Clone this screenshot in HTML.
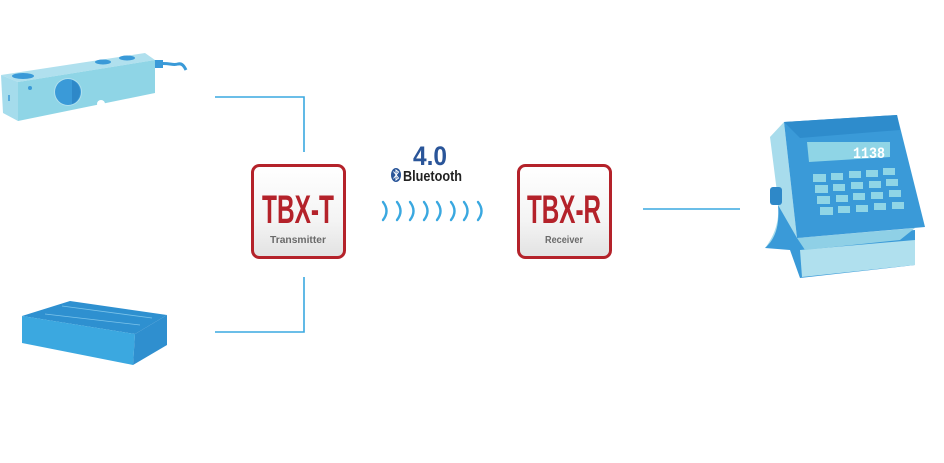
<!DOCTYPE html>
<html><head><meta charset="utf-8"><style>
html,body{margin:0;padding:0;background:#fff;width:944px;height:463px;overflow:hidden}
svg{display:block}
text{font-family:"Liberation Sans Narrow","Liberation Sans",sans-serif;font-weight:bold}
</style></head><body>
<svg width="944" height="463" viewBox="0 0 944 463" xmlns="http://www.w3.org/2000/svg">
<defs>
<linearGradient id="bg" x1="0" y1="0" x2="0" y2="1">
<stop offset="0" stop-color="#ffffff"/><stop offset="0.6" stop-color="#f4f4f4"/><stop offset="1" stop-color="#e2e2e2"/>
</linearGradient>
</defs>
<g stroke="#3aa8e0" stroke-width="1.6" fill="none">
<polyline points="215,97 304,97 304,152"/>
<polyline points="215,332 304,332 304,277"/>
<line x1="643" y1="209" x2="740" y2="209"/>
</g>
<!-- load cell -->
<path d="M155,64 C170,62 172,66 178,64 C182,63 184,66 186,70" stroke="#3a9ad8" stroke-width="3" fill="none"/>
<rect x="154" y="60" width="9" height="8" fill="#3a9ad8"/>
<polygon points="1,75 145,53 155,60 18,82" fill="#b0e0ee"/>
<polygon points="1,75 18,82 18,121 3,113" fill="#a5dcec"/>
<polygon points="18,82 155,60 155,93 18,121" fill="#8fd5e6"/>
<ellipse cx="23" cy="76" rx="11" ry="3" fill="#3a9ad8"/>
<ellipse cx="103" cy="62" rx="8" ry="2.5" fill="#3a9ad8"/>
<ellipse cx="127" cy="58" rx="8" ry="2.5" fill="#3a9ad8"/>
<circle cx="30" cy="88" r="2" fill="#3a9ad8"/>
<circle cx="68" cy="92" r="14" fill="#b0e0ee"/>
<circle cx="68" cy="92" r="13" fill="#3a9ad8"/>
<path d="M72,80 A13,13 0 0 1 72,104" fill="#2e88c8"/>
<circle cx="101" cy="104" r="4" fill="#fff"/>
<line x1="9" y1="95" x2="9" y2="101" stroke="#3a9ad8" stroke-width="1.5"/>
<!-- platform -->
<polygon points="22,316 70,301 167,315 135,334" fill="#2e90d0"/>
<line x1="45" y1="314" x2="140" y2="325" stroke="#7cc4ea" stroke-width="0.8"/>
<line x1="62" y1="306" x2="152" y2="318" stroke="#7cc4ea" stroke-width="0.8"/>
<polygon points="22,316 135,334 133,365 22,343" fill="#3ba8e0"/>
<polygon points="135,334 167,315 167,345 133,365" fill="#2f8fcf"/>
<!-- TBX-T -->
<rect x="252.5" y="165.5" width="92" height="92" rx="7" fill="url(#bg)" stroke="#b4222a" stroke-width="3"/>
<text x="298" y="223" text-anchor="middle" font-size="40" fill="#b4222a" textLength="72" lengthAdjust="spacingAndGlyphs">TBX-T</text>
<text x="298" y="243" text-anchor="middle" font-size="10" fill="#6a6a6a" textLength="56" lengthAdjust="spacingAndGlyphs">Transmitter</text>
<!-- TBX-R -->
<rect x="518.5" y="165.5" width="92" height="92" rx="7" fill="url(#bg)" stroke="#b4222a" stroke-width="3"/>
<text x="564" y="223" text-anchor="middle" font-size="40" fill="#b4222a" textLength="74" lengthAdjust="spacingAndGlyphs">TBX-R</text>
<text x="564" y="243" text-anchor="middle" font-size="10" fill="#6a6a6a" textLength="38" lengthAdjust="spacingAndGlyphs">Receiver</text>
<!-- bluetooth -->
<text x="430" y="165" text-anchor="middle" font-size="27" fill="#2a5599" textLength="34" lengthAdjust="spacingAndGlyphs">4.0</text>
<ellipse cx="396" cy="175" rx="5" ry="7" fill="#2a5599"/>
<path d="M393.5,171.5 L398.5,178 L396,180 L396,170 L398.5,172 L393.5,178.5" stroke="#fff" stroke-width="1" fill="none"/>
<text x="403" y="181" font-size="15" fill="#222" textLength="59" lengthAdjust="spacingAndGlyphs">Bluetooth</text>
<!-- waves -->
<g stroke="#3aa8e0" stroke-width="2.4" fill="none" stroke-linecap="round">
<path d="M383,202 Q390,211 383,220"/>
<path d="M397,202 Q404,211 397,220"/>
<path d="M410,202 Q417,211 410,220"/>
<path d="M424,202 Q431,211 424,220"/>
<path d="M437,202 Q444,211 437,220"/>
<path d="M451,202 Q458,211 451,220"/>
<path d="M464,202 Q471,211 464,220"/>
<path d="M478,202 Q485,211 478,220"/>
</g>
<!-- indicator -->
<path d="M770,137 L784,122 L797,238 L790,248 L765,248 C775,235 780,220 778,200 Z" fill="#a8dcec"/>
<path d="M778,205 C780,228 774,240 765,248 L790,250 L800,278 L915,265 L915,230 L797,238 Z" fill="#3a9ad8"/>
<polygon points="800,250 915,240 915,265 802,277" fill="#b0e0ee"/>
<polygon points="797,238 915,228 900,240 805,250" fill="#8fd0e6"/>
<rect x="770" y="187" width="12" height="18" rx="3" fill="#2e88c8"/>
<polygon points="784,122 897,115 925,227 797,238" fill="#3a9ad8"/>
<polygon points="784,122 897,115 900,130 800,138" fill="#2e8ccc"/>
<polygon points="807,142 890,142 890,157 809,162" fill="#8fd5e6"/>
<text x="853" y="158" font-size="16" font-weight="normal" fill="#fff" style="font-family:'Liberation Mono',monospace" textLength="32" lengthAdjust="spacingAndGlyphs">1138</text>
<g fill="#8fd5e6">
<rect x="813" y="174" width="13" height="8"/><rect x="831" y="173" width="12" height="7"/><rect x="849" y="171" width="12" height="7"/><rect x="866" y="170" width="12" height="7"/><rect x="883" y="168" width="12" height="7"/>
<rect x="815" y="185" width="13" height="8"/><rect x="833" y="184" width="12" height="7"/><rect x="851" y="182" width="12" height="7"/><rect x="869" y="181" width="12" height="7"/><rect x="886" y="179" width="12" height="7"/>
<rect x="817" y="196" width="13" height="8"/><rect x="836" y="195" width="12" height="7"/><rect x="853" y="193" width="12" height="7"/><rect x="871" y="192" width="12" height="7"/><rect x="889" y="190" width="12" height="7"/>
<rect x="820" y="207" width="13" height="8"/><rect x="838" y="206" width="12" height="7"/><rect x="856" y="205" width="12" height="7"/><rect x="874" y="203" width="12" height="7"/><rect x="892" y="202" width="12" height="7"/>
</g>
</svg>
</body></html>
